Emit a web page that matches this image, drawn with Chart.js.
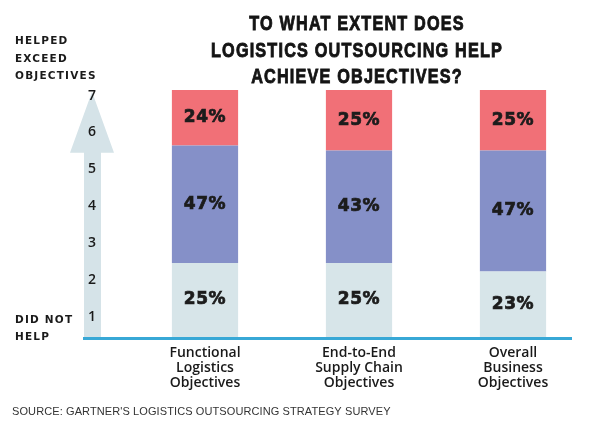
<!DOCTYPE html>
<html>
<head>
<meta charset="utf-8">
<script src="https://cdn.jsdelivr.net/npm/chart.js@4"></script>
<style>
  html, body { margin: 0; padding: 0; background: #ffffff; }
  #wrap { width: 600px; height: 425px; position: relative; }
</style>
</head>
<body>
<div id="wrap"><canvas id="chartExtent"></canvas></div>
<script>
// Datos
var categorias = [
  ['Functional', 'Logistics', 'Objectives'],
  ['End-to-End', 'Supply Chain', 'Objectives'],
  ['Overall', 'Business', 'Objectives']
];
// porcentajes impresos en cada tramo
var pctNoAyudo = [25, 25, 23];
var pctAyudo = [47, 43, 47];
var pctSupero = [24, 25, 25];
// alto visible de cada tramo (parte de la barra)
var altoNoAyudo = [30, 30, 26.5];
var altoAyudo = [47.5, 45.5, 49];
var altoSupero = [22.5, 24.5, 24.5];
// escala 1-7 de la flecha
var escalaTicks = [1, 2, 3, 4, 5, 6, 7];

var titulo = ['TO WHAT EXTENT DOES', 'LOGISTICS OUTSOURCING HELP', 'ACHIEVE OBJECTIVES?'];
var fuente = "SOURCE: GARTNER'S LOGISTICS OUTSOURCING STRATEGY SURVEY";

var pctPorSerie = [pctNoAyudo, pctAyudo, pctSupero];

// Flecha, textos laterales, titulo y linea base
var decoracion = {
  id: 'decoracion',
  beforeDraw: function(chart) {
    var ctx = chart.ctx;
    var y2 = chart.scales.y2;
    var base = chart.chartArea.bottom;
    var tip = y2.getPixelForValue(7.1);
    var headBase = y2.getPixelForValue(5.45);
    ctx.save();
    ctx.fillStyle = '#d5e3e8';
    ctx.beginPath();
    ctx.moveTo(84, base);
    ctx.lineTo(84, headBase);
    ctx.lineTo(70, headBase);
    ctx.lineTo(92, tip);
    ctx.lineTo(114, headBase);
    ctx.lineTo(101, headBase);
    ctx.lineTo(101, base);
    ctx.closePath();
    ctx.fill();
    ctx.restore();
  },
  afterDatasetsDraw: function(chart) {
    var ctx = chart.ctx;
    ctx.save();
    // linea base azul
    ctx.fillStyle = '#38a8d6';
    ctx.fillRect(83, chart.chartArea.bottom, 489, 3);

    // titulo (condensado para igualar el ancho)
    ctx.fillStyle = '#141414';
    ctx.strokeStyle = '#141414';
    ctx.lineWidth = 0.9;
    ctx.textAlign = 'center';
    ctx.textBaseline = 'alphabetic';
    ctx.font = "bold 21px 'Liberation Sans', sans-serif";
    ctx.letterSpacing = '1.5px';
    var escalaX = 292 / ctx.measureText(titulo[1]).width;
    var ys = [30, 57, 83];
    for (var i = 0; i < titulo.length; i++) {
      ctx.save();
      ctx.translate(357, ys[i]);
      ctx.scale(escalaX, 1);
      ctx.fillText(titulo[i], 0, 0);
      ctx.strokeText(titulo[i], 0, 0);
      ctx.restore();
    }

    // textos del eje izquierdo
    ctx.textAlign = 'left';
    ctx.font = "bold 10.5px 'DejaVu Sans', sans-serif";
    ctx.letterSpacing = '1.2px';
    ctx.fillStyle = '#1a1a1a';
    ctx.fillText('HELPED', 15, 44);
    ctx.fillText('EXCEED', 15, 62);
    ctx.fillText('OBJECTIVES', 15, 79);
    ctx.fillText('DID NOT', 15, 323);
    ctx.fillText('HELP', 15, 340);

    // fuente
    ctx.font = "11px 'Liberation Sans', sans-serif";
    ctx.letterSpacing = '0.1px';
    ctx.fillStyle = '#333333';
    ctx.fillText(fuente, 12, 415);

    // etiquetas de porcentaje
    ctx.textAlign = 'center';
    ctx.textBaseline = 'middle';
    ctx.font = "bold 17px 'DejaVu Sans', sans-serif";
    ctx.letterSpacing = '0.6px';
    ctx.fillStyle = '#1c1c1c';
    ctx.strokeStyle = '#1c1c1c';
    ctx.lineWidth = 0.7;
    chart.data.datasets.forEach(function(ds, di) {
      var meta = chart.getDatasetMeta(di);
      meta.data.forEach(function(bar, i) {
        var cy = (bar.y + bar.base) / 2;
        var txt = pctPorSerie[di][i] + '%';
        ctx.fillText(txt, bar.x, cy);
        ctx.strokeText(txt, bar.x, cy);
      });
    });
    ctx.restore();
  }
};

var ctx = document.getElementById('chartExtent');
new Chart(ctx, {
  type: 'bar',
  data: {
    labels: categorias,
    datasets: [
      { label: 'Did not help', data: altoNoAyudo, backgroundColor: '#d7e5e9' },
      { label: 'Helped', data: altoAyudo, backgroundColor: '#8590c8' },
      { label: 'Exceeded', data: altoSupero, backgroundColor: '#f17077' }
    ]
  },
  options: {
    responsive: true,
    maintainAspectRatio: false,
    animation: false,
    layout: { padding: { top: 90, left: 88, right: 10, bottom: 0 } },
    datasets: { bar: { barPercentage: 0.43, categoryPercentage: 1, borderWidth: 0 } },
    plugins: {
      legend: { display: false },
      tooltip: { enabled: false }
    },
    scales: {
      x: {
        stacked: true,
        grid: { display: false, drawTicks: false },
        border: { display: false },
        ticks: {
          color: '#1a1a1a',
          padding: 9,
          autoSkip: false,
          maxRotation: 0,
          font: { family: "'Open Sans', sans-serif", size: 14, weight: '600', lineHeight: '15px' }
        },
        afterFit: function(axis) { axis.height = 88; }
      },
      y: {
        stacked: true,
        display: false,
        min: 0,
        max: 100
      },
      y2: {
        position: 'left',
        min: 0.45,
        max: 7.15,
        grid: { display: false, drawTicks: false },
        border: { display: false },
        ticks: {
          crossAlign: 'far',
          padding: 0,
          color: '#1a1a1a',
          font: { family: "'Open Sans', sans-serif", size: 14, weight: '600' }
        },
        afterBuildTicks: function(axis) {
          axis.ticks = escalaTicks.map(function(v) { return { value: v }; });
        },
        afterFit: function(axis) { axis.width = 40; }
      }
    }
  },
  plugins: [decoracion]
});
</script>
</body>
</html>
